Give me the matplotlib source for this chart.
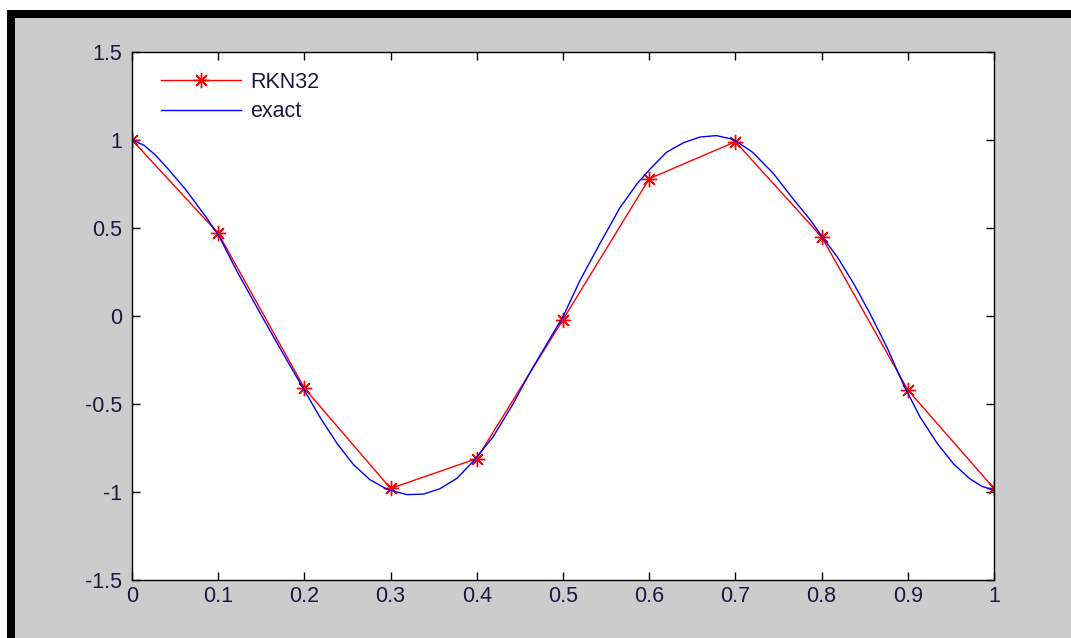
import matplotlib
matplotlib.use('Agg')
import matplotlib.pyplot as plt
from matplotlib.patches import Rectangle

# RKN32 numerical solution, step 0.1
t_rkn = [0.0, 0.1, 0.2, 0.3, 0.4, 0.5, 0.6, 0.7, 0.8, 0.9, 1.0]
y_rkn = [1.0, 0.47, -0.41, -0.98, -0.81, -0.02, 0.78, 0.99, 0.45, -0.42, -0.98]

# exact solution
t_exact = [0.0, 0.014, 0.027, 0.042, 0.062, 0.085, 0.1, 0.123, 0.152, 0.176, 0.198,
           0.218, 0.238, 0.257, 0.276, 0.296, 0.319, 0.338, 0.357, 0.377, 0.396,
           0.419, 0.442, 0.462, 0.485, 0.5, 0.52, 0.543, 0.566, 0.586, 0.601,
           0.62, 0.64, 0.659, 0.678, 0.698, 0.72, 0.744, 0.767, 0.787, 0.8,
           0.818, 0.837, 0.856, 0.876, 0.895, 0.914, 0.934, 0.953, 0.972, 0.986, 1.0]
y_exact = [1.0, 0.97, 0.915, 0.835, 0.72, 0.568, 0.462, 0.243, -0.013, -0.22, -0.405,
           -0.575, -0.725, -0.845, -0.93, -0.985, -1.015, -1.012, -0.982, -0.922, -0.825,
           -0.686, -0.5, -0.318, -0.127, -0.004, 0.205, 0.413, 0.615, 0.752, 0.835,
           0.93, 0.985, 1.017, 1.025, 1.003, 0.93, 0.81, 0.665, 0.545, 0.455,
           0.337, 0.186, 0.015, -0.18, -0.39, -0.572, -0.723, -0.84, -0.925, -0.968, -0.99]

x_ticks = [0, 0.1, 0.2, 0.3, 0.4, 0.5, 0.6, 0.7, 0.8, 0.9, 1]
x_labels = ['0', '0.1', '0.2', '0.3', '0.4', '0.5', '0.6', '0.7', '0.8', '0.9', '1']
y_ticks = [-1.5, -1, -0.5, 0, 0.5, 1, 1.5]
y_labels = ['-1.5', '-1', '-0.5', '0', '0.5', '1', '1.5']

plt.rcParams['font.family'] = ['Liberation Sans', 'DejaVu Sans']

W, H = 1071, 638
fig = plt.figure(figsize=(W / 100, H / 100), dpi=100, facecolor='white')

# black frame and grey window background, behind the axes
fig.patches.append(Rectangle((7 / W, 0), 1, (H - 10) / H, transform=fig.transFigure,
                             facecolor='black', edgecolor='none', zorder=-10))
fig.patches.append(Rectangle((15 / W, 0), 1, (H - 18) / H, transform=fig.transFigure,
                             facecolor='#cccccc', edgecolor='none', zorder=-9))

ax = fig.add_axes([132 / W, 1 - 580 / H, (994 - 132) / W, (580 - 52) / H])
ax.set_facecolor('white')

ax.plot(t_rkn, y_rkn, color='red', lw=1.0, marker=(8, 2, 0), markersize=11,
        markeredgewidth=1.0, label='RKN32')
ax.plot(t_exact, y_exact, color='blue', lw=1.0, label='exact')

ax.set_xlim(0, 1)
ax.set_ylim(-1.5, 1.5)
ax.set_xticks(x_ticks)
ax.set_xticklabels(x_labels)
ax.set_yticks(y_ticks)
ax.set_yticklabels(y_labels)

fs = 15.5
label_color = '#1a1a40'
ax.tick_params(direction='in', length=6, width=1, top=True, right=True,
               labelsize=fs, labelcolor=label_color)
ax.tick_params(axis='x', pad=4)
ax.tick_params(axis='y', pad=7)
for s in ax.spines.values():
    s.set_linewidth(1.0)
    s.set_color('black')

leg = ax.legend(loc='upper left', bbox_to_anchor=(29 / 862, 1 - 20 / 528),
                frameon=False, fontsize=fs, handlelength=3.7, handletextpad=0.45,
                labelspacing=0.38, borderpad=0, borderaxespad=0)
for txt in leg.get_texts():
    txt.set_color(label_color)

fig.savefig('out.png', dpi=100, facecolor=fig.get_facecolor())
